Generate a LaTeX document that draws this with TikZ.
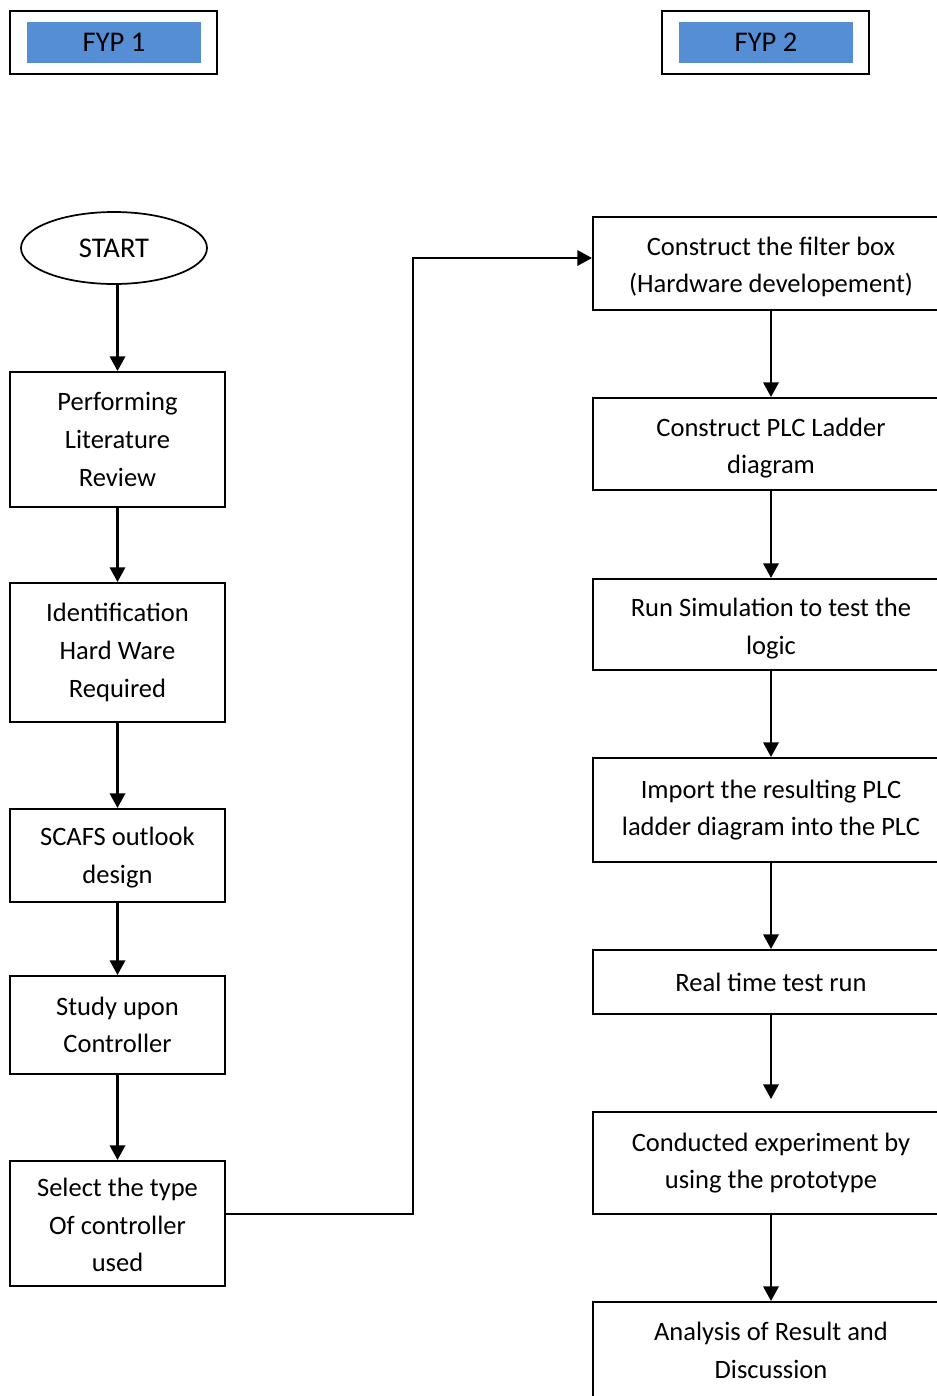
\documentclass[tikz,border=0pt]{standalone}
\usepackage{fontspec}
\setmainfont{Carlito}
\usetikzlibrary{arrows.meta,shapes.geometric}
\definecolor{hdrblue}{RGB}{85,142,213}
\tikzset{
  stepbox/.style={draw=black, line width=1.5pt, rectangle, align=center, inner sep=0pt,
    font=\fontsize{19.9}{28.3}\selectfont},
  lbox/.style={stepbox, minimum width=161.25pt},
  rbox/.style={stepbox, minimum width=267pt},
  outerhdr/.style={draw=black, line width=1.6pt, minimum width=155.25pt, minimum height=47.25pt, inner sep=0pt},
  innerhdr/.style={fill=hdrblue, minimum width=130.5pt, minimum height=30.75pt, inner sep=0pt,
    font=\fontsize{21.4}{25}\selectfont},
  startnode/.style={draw=black, line width=1.3pt, ellipse, minimum width=139.5pt, minimum height=54pt,
    inner sep=0pt, font=\fontsize{21.4}{25}\selectfont},
  flow/.style={line width=1.8pt, -{Triangle[width=11.5pt,length=11pt]}}
}
\begin{document}
\begin{tikzpicture}[x=0.75pt, y=-0.75pt]
\useasboundingbox (0,0) rectangle (937,1396);
\clip (0,0) rectangle (937,1396);
% headers
\node[outerhdr] (h1o) at (113.5,42.5) {};
\node[innerhdr] (h1) at (114,42.5) {FYP 1};
\node[outerhdr] (h2o) at (765.5,42.5) {};
\node[innerhdr] (h2) at (766,42.5) {FYP 2};
% left column
\node[startnode] (start) at (114,248) {START};
\node[lbox, minimum height=101.25pt] (b1) at (117.5,439.5) {Performing\\Literature\\Review};
\node[lbox, minimum height=104.25pt] (b2) at (117.5,652.5) {Identification\\Hard Ware\\Required};
\node[lbox, minimum height=69.75pt] (b3) at (117.5,855.5) {\rule{0pt}{17pt}SCAFS outlook\\design};
\node[lbox, minimum height=73.5pt] (b4) at (117.5,1025) {Study upon\\Controller};
\node[lbox, minimum height=93.75pt] (b5) at (117.5,1223.5) {\rule{0pt}{16pt}Select the type\\Of controller\\used};
% right column
\node[rbox, minimum height=69.75pt] (r1) at (771,263.5) {\rule{0pt}{19pt}Construct the filter box\\(Hardware developement)};
\node[rbox, minimum height=69pt] (r2) at (771,444) {\rule{0pt}{20pt}Construct PLC Ladder\\diagram};
\node[rbox, minimum height=68.25pt] (r3) at (771,624.5) {\rule{0pt}{20pt}Run Simulation to test the\\logic};
\node[rbox, minimum height=78pt] (r4) at (771,810) {Import the resulting PLC\\ladder diagram into the PLC};
\node[rbox, minimum height=48pt] (r5) at (771,982) {Real time test run};
\node[rbox, minimum height=76.5pt] (r6) at (771,1163) {Conducted experiment by\\using the prototype};
\node[rbox, minimum height=72.75pt] (r7) at (771,1350.5) {Analysis of Result and\\Discussion};
% left connectors
\draw[flow] (b1.north |- start.south) -- (b1.north);
\draw[flow] (b1.south) -- (b2.north);
\draw[flow] (b2.south) -- (b3.north);
\draw[flow] (b3.south) -- (b4.north);
\draw[flow] (b4.south) -- (b5.north);
% cross connector
\coordinate (e1) at (413,1214);
\coordinate (e2) at (413,258);
\draw[flow] (b5.east |- e1) -- (e1) -- (e2) -- (r1.west |- e2);
% right connectors
\draw[flow] (r1.south) -- (r2.north);
\draw[flow] (r2.south) -- (r3.north);
\draw[flow] (r3.south) -- (r4.north);
\draw[flow] (r4.south) -- (r5.north);
\draw[flow] (r5.south) -- ([yshift=9pt]r6.north);
\draw[flow] (r6.south) -- (r7.north);
\end{tikzpicture}
\end{document}
